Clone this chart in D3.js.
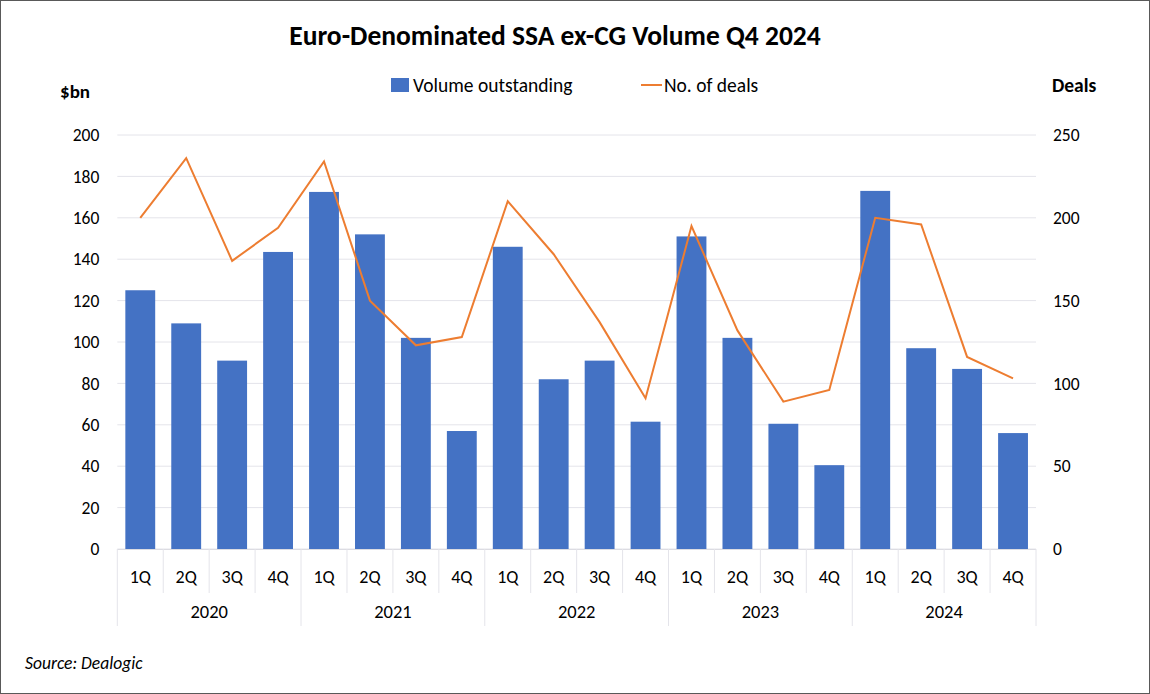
<!DOCTYPE html>
<html><head><meta charset="utf-8">
<script src="https://cdn.jsdelivr.net/npm/d3@7"></script>
<style>
html,body{margin:0;padding:0;background:#fff;}
svg{display:block;font-family:Carlito,Calibri,Lato,"Liberation Sans",sans-serif;}
</style></head>
<body>
<svg id="c" width="1150" height="694"></svg>
<script>
const years = ["2020","2021","2022","2023","2024"];
const quarters = ["1Q","2Q","3Q","4Q"];
const volume = [125,109,91,143.5, 172.5,152,102,57, 146,82,91,61.5, 151,102,60.5,40.5, 173,97,87,56];
const deals = [200,236,174,194, 234,150,123,128, 210,178,137,91, 195,132,89,96, 200,196,116,103];
const leftTicks = [0,20,40,60,80,100,120,140,160,180,200];
const rightTicks = [0,50,100,150,200,250];

const svg = d3.select("#c");
const W=1150,H=694;
svg.append("rect").attr("x",0.5).attr("y",0.5).attr("width",W-1).attr("height",H-1).attr("fill","#fff").attr("stroke","#595959").attr("stroke-width",1);

const m={l:117.3,r:1036,t:135,b:549};
const cats=[];
years.forEach(y=>quarters.forEach(q=>cats.push(y+"-"+q)));
const x=d3.scaleBand().domain(cats).range([m.l,m.r]).paddingInner(0.35).paddingOuter(0.175);
const yL=d3.scaleLinear().domain([0,200]).range([m.b,m.t]);
const yR=d3.scaleLinear().domain([0,250]).range([m.b,m.t]);

// gridlines
svg.append("g").selectAll("line").data(leftTicks).join("line")
  .attr("x1",m.l).attr("x2",m.r).attr("y1",d=>yL(d)).attr("y2",d=>yL(d))
  .attr("stroke","#e4e4ea").attr("stroke-width",1);

// axis labels
const gl=svg.append("g").attr("transform",`translate(${m.l},0)`).call(d3.axisLeft(yL).tickValues(leftTicks).tickSize(0).tickPadding(18));
gl.select(".domain").remove();
gl.selectAll("text").attr("font-size",17.5).attr("fill","#000").attr("font-family","Carlito,Calibri,Lato,sans-serif");
const gr=svg.append("g").attr("transform",`translate(${m.r},0)`).call(d3.axisRight(yR).tickValues(rightTicks).tickSize(0).tickPadding(17));
gr.select(".domain").remove();
gr.selectAll("text").attr("font-size",17.5).attr("fill","#000").attr("font-family","Carlito,Calibri,Lato,sans-serif");

// bars
svg.append("g").selectAll("rect").data(volume).join("rect")
  .attr("x",(d,i)=>x(cats[i])).attr("width",x.bandwidth())
  .attr("y",d=>yL(d)).attr("height",d=>yL(0)-yL(d)).attr("fill","#4472C4");

// line
const line=d3.line().x((d,i)=>x(cats[i])+x.bandwidth()/2).y(d=>yR(d));
svg.append("path").datum(deals).attr("d",line).attr("fill","none").attr("stroke","#ED7D31").attr("stroke-width",2).attr("stroke-linejoin","miter");

// category axis
const step=x.step();
const ax=svg.append("g");
ax.append("line").attr("x1",m.l).attr("x2",m.r).attr("y1",m.b+0.5).attr("y2",m.b+0.5).attr("stroke","#dcdce2");
cats.forEach((c,i)=>{
  const xl=m.l+i*step;
  const isYear=i%4===0;
  ax.append("line").attr("x1",xl).attr("x2",xl).attr("y1",m.b).attr("y2",isYear?626:593).attr("stroke","#e4e4ea");
  ax.append("text").attr("x",x(c)+x.bandwidth()/2).attr("y",583).attr("text-anchor","middle").attr("font-size",18).text(quarters[i%4]);
});
ax.append("line").attr("x1",m.r).attr("x2",m.r).attr("y1",m.b).attr("y2",626).attr("stroke","#e4e4ea");
years.forEach((y,j)=>{
  const xs=m.l+j*4*step;
  ax.append("text").attr("x",xs+2*step).attr("y",618).attr("text-anchor","middle").attr("font-size",18.5).text(y);
});

// title
svg.append("text").attr("x",555).attr("y",45).attr("text-anchor","middle").attr("font-size",27.5).attr("font-weight","bold").text("Euro-Denominated SSA ex-CG Volume Q4 2024");
// axis titles
svg.append("text").attr("x",60).attr("y",98).attr("font-size",19).attr("font-weight","bold").text("$bn");
svg.append("text").attr("x",1052).attr("y",92).attr("font-size",19.5).attr("font-weight","bold").text("Deals");
// legend
svg.append("rect").attr("x",391).attr("y",78).attr("width",18).attr("height",14).attr("fill","#4472C4");
svg.append("text").attr("x",413).attr("y",92).attr("font-size",19.5).text("Volume outstanding");
svg.append("line").attr("x1",641).attr("x2",662).attr("y1",85).attr("y2",85).attr("stroke","#ED7D31").attr("stroke-width",2);
svg.append("text").attr("x",664).attr("y",92).attr("font-size",19.5).text("No. of deals");
// source
svg.append("text").attr("x",25).attr("y",669).attr("font-size",17.5).attr("font-style","italic").text("Source: Dealogic");
</script>
</body></html>
